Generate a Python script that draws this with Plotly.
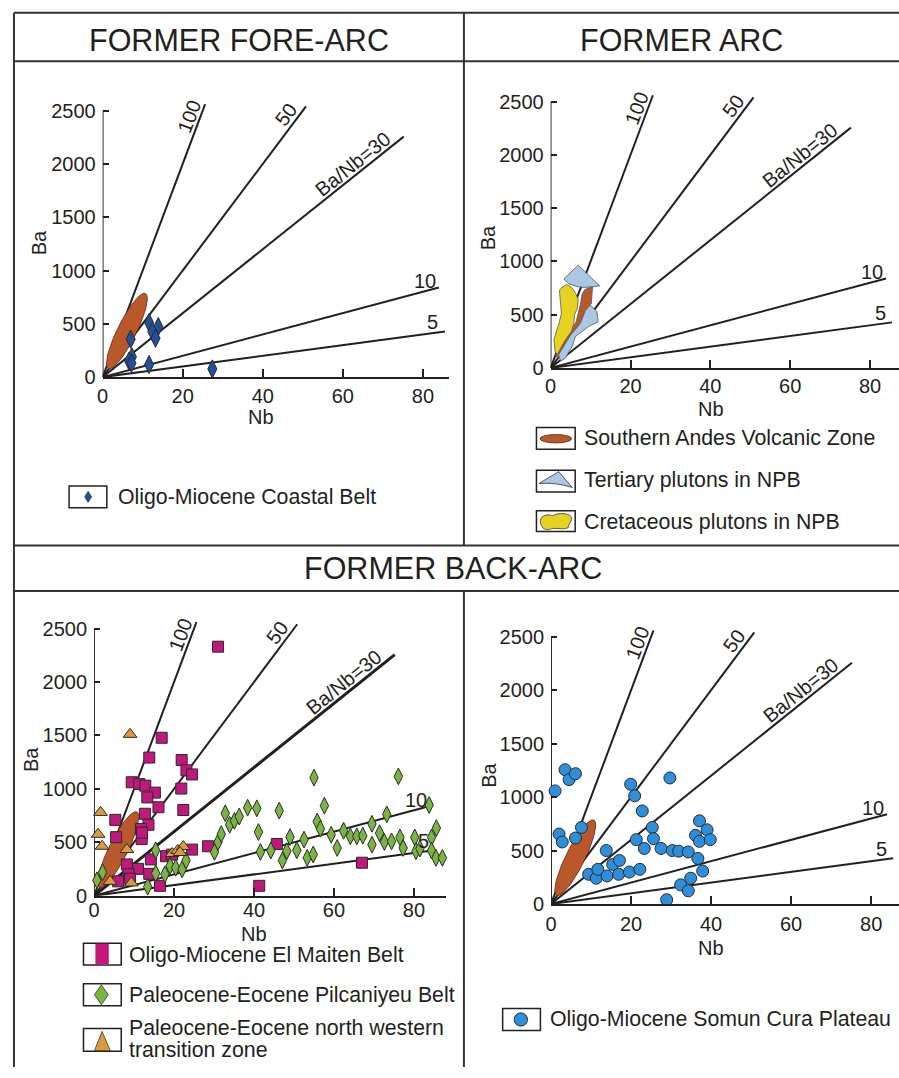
import numpy as np
import plotly.graph_objects as go

W, H = 899, 1078
FONT = "Liberation Sans, Arial, sans-serif"
INK = "#231f20"

# ---------------- data ----------------
ratios = [100, 50, 30, 10, 5]
ratio_labels = ["100", "50", "Ba/Nb=30", "10", "5"]
ratio_line_nb_end = [25.6, 50.8, 75.2, 84.0, 85.5]
ratio_label_nb = [21.6, 45.7, 62.5, 80.5, 82.5]
ratio_label_ba = [2440, 2460, 2000, 900, 515]

x_ticks = [0, 20, 40, 60, 80]
y_ticks = [0, 500, 1000, 1500, 2000, 2500]

# Southern Andes Volcanic Zone field (ellipse end points, Nb / Ba)
svz_end_nb = [1.4, 10.7]
svz_end_ba = [80, 785]

# Oligo-Miocene Coastal Belt
coastal_nb = [7.0, 11.6, 13.9, 12.4, 13.2, 7.3, 6.6, 7.2, 11.6, 27.4]
coastal_ba = [356, 511, 474, 427, 365, 190, 150, 130, 118, 77]

# Former arc fields
svz_arc_nb = [8.55, 10.5, 10.2, 8.7, 7.2, 5.4, 3.3, 2.1, 1.25, 1.9, 4.6, 6.4, 7.5, 7.9]
svz_arc_ba = [734, 766, 604, 536, 412, 320, 202, 93, 109, 202, 325, 434, 604, 697]
cret_nb = [2.9, 4.15, 5.4, 6.3, 6.9, 6.7, 6.0, 5.8, 5.2, 3.7, 2.5, 1.7, 1.1, 0.85, 1.25, 2.1, 2.7, 2.5, 2.2]
cret_ba = [759, 784, 750, 700, 640, 560, 500, 418, 341, 264, 186, 124, 155, 264, 325, 418, 511, 636, 728]
tert_hat_nb = [3.3, 6.9, 12.3, 10.5, 8.5, 6.5, 4.5]
tert_hat_ba = [835, 965, 770, 760, 755, 765, 790]
tert_low_nb = [9.95, 11.6, 11.9, 9.5, 6.2, 5.4, 3.7, 2.5, 2.0, 3.0, 5.0, 7.5, 8.7]
tert_low_ba = [589, 527, 434, 388, 295, 202, 93, 62, 124, 186, 310, 418, 542]

# Oligo-Miocene El Maiten Belt
maiten_nb = [31.0, 16.9, 13.8, 21.9, 23.1, 24.5, 9.4, 11.3, 12.8, 15.2, 13.3, 21.8, 16.1, 22.3,
             12.7, 5.3, 13.6, 11.7, 11.9, 5.5, 28.5, 24.5, 45.7, 18.0, 14.2, 8.2, 11.0, 13.8,
             8.6, 6.0, 67.0, 41.3, 16.5, 19.5, 9.0, 12.0]
maiten_ba = [2330, 1478, 1293, 1270, 1173, 1135, 1062, 1045, 1030, 965, 920, 1003, 828, 802,
             767, 710, 664, 625, 530, 548, 463, 432, 484, 370, 340, 293, 252, 205,
             201, 135, 309, 93, 93, 385, 160, 590]

# Paleocene-Eocene Pilcaniyeu Belt
pilca_nb = [0.7, 2.1, 13.4, 15.4, 15.4, 17.7, 19.0, 20.4, 22.0, 23.0, 30.1, 31.0, 31.8, 32.8,
            33.9, 35.1, 36.3, 38.4, 40.7, 41.1, 41.6, 44.2, 46.3, 47.1, 48.2, 49.0, 50.7, 52.5,
            53.3, 54.8, 55.0, 55.8, 56.6, 57.6, 59.3, 60.8, 62.4, 64.1, 65.7, 67.2, 69.5, 69.5,
            71.4, 72.6, 73.2, 74.4, 76.1, 76.5, 77.3, 80.2, 80.5, 81.5, 83.8, 84.4, 84.4, 85.5,
            85.6, 87.1, 89.5]
pilca_ba = [145, 220, 85, 210, 425, 201, 278, 262, 247, 330, 410, 503, 577, 772,
            664, 701, 741, 824, 818, 596, 410, 423, 796, 330, 417, 549, 426, 525,
            355, 386, 1105, 694, 627, 843, 571, 447, 608, 556, 556, 562, 673, 478,
            586, 503, 762, 509, 1117, 546, 447, 546, 417, 441, 849, 546, 423, 355,
            633, 355, 278]

# Paleocene-Eocene north western transition zone
nwtz_nb = [9.0, 1.6, 1.0, 2.0, 8.2, 4.0, 9.3, 19.5, 20.9, 22.3, 21.5]
nwtz_ba = [1510, 780, 575, 463, 432, 135, 120, 395, 425, 460, 405]

# Oligo-Miocene Somun Cura Plateau
somun_nb = [1.0, 3.5, 4.5, 6.1, 2.0, 2.8, 6.1, 7.6, 19.9, 20.9, 22.8, 29.7, 25.3, 25.6,
            21.3, 23.3, 27.5, 30.3, 31.9, 34.3, 36.7, 37.1, 36.1, 37.1, 39.0, 39.8, 37.9,
            13.8, 9.4, 11.3, 11.7, 14.0, 15.4, 17.1, 16.9, 19.6, 22.2, 34.9, 32.4, 34.3, 28.9]
somun_ba = [1058, 1256, 1163, 1219, 654, 580, 617, 716, 1120, 1012, 870, 1179, 716, 611,
            602, 519, 519, 500, 494, 487, 426, 778, 642, 586, 694, 602, 308,
            500, 278, 241, 324, 262, 370, 407, 278, 299, 324, 241, 179, 123, 40]

# ---------------- colours ----------------
C_SVZ = "#b9582b"
C_TERT = "#a9c8e5"
C_CRET = "#e6d21f"
C_COAST = "#21509d"
C_MAITEN = "#c2187d"
C_PILCA = "#7ab441"
C_NWTZ = "#dc9b3b"
C_SOMUN = "#2d8fdb"

# ---------------- panel geometry (pixels) ----------------
panels = [
    dict(x0=97.3, y0=381.0, sx=4.03, sy=0.1077, xmax=86.5, ba=(33, 245), nb=(257, 421), xso=0),
    dict(x0=548.3, y0=371.7, sx=4.02, sy=0.1076, xmax=87.7, ba=(485, 240), nb=(710, 413), xso=-1),
    dict(x0=88.7, y0=905.0, sx=4.025, sy=0.108, xmax=88.0, ba=(25, 767), nb=(250, 944), xso=-5),
    dict(x0=548.7, y0=913.3, sx=4.028, sy=0.108, xmax=87.6, ba=(486, 783), nb=(710, 958), xso=1),
]
YMAX = 2600
LEG = 21.3

fig = go.Figure()
layout = dict(width=W, height=H, margin=dict(l=0, r=0, t=0, b=0),
              paper_bgcolor="white", plot_bgcolor="rgba(0,0,0,0)",
              showlegend=False, font=dict(family=FONT, color=INK, size=20))
shapes = []
annotations = []

for i, p in enumerate(panels):
    n = i + 1
    xa = "xaxis" if n == 1 else f"xaxis{n}"
    ya = "yaxis" if n == 1 else f"yaxis{n}"
    xr = "x" if n == 1 else f"x{n}"
    yr = "y" if n == 1 else f"y{n}"
    xmax = min(p["xmax"], (W - p["x0"]) / p["sx"] - 0.01)
    xd = [p["x0"] / W, min(1.0, (p["x0"] + xmax * p["sx"]) / W)]
    yd = [1 - p["y0"] / H, 1 - (p["y0"] - YMAX * p["sy"]) / H]
    layout[xa] = dict(domain=xd, range=[0, xmax], anchor=yr, showgrid=False, zeroline=False,
                      showline=True, linecolor=INK, linewidth=1.8, ticks="inside", ticklen=8,
                      tickwidth=1.5, tickcolor=INK, tickvals=x_ticks,
                      tickfont=dict(size=20, family=FONT, color=INK),
                      ticklabelstandoff=p["xso"])
    layout[ya] = dict(domain=yd, range=[0, YMAX], anchor=xr, showgrid=False, zeroline=False,
                      showline=False, ticks="inside", ticklen=6, tickwidth=1.5, tickcolor=INK,
                      tickvals=y_ticks, tickfont=dict(size=20, family=FONT, color=INK),
                      ticklabelstandoff=6)
    # y axis line up to 2500
    shapes.append(dict(type="line", xref=xr, yref=yr, x0=0, x1=0, y0=0, y1=y_ticks[-1],
                       line=dict(color=INK, width=1.8), layer="below"))
    # ratio lines
    for r, e in zip(ratios, ratio_line_nb_end):
        w = 3 if (n == 3 and r == 30) else 2
        fig.add_trace(go.Scatter(x=[0, e], y=[0, r * e], mode="lines", xaxis=xr, yaxis=yr,
                                 line=dict(color=INK, width=w), hoverinfo="skip"))
    for r, lab, lx, ly in zip(ratios, ratio_labels, ratio_label_nb, ratio_label_ba):
        ang = 0 if r <= 10 else -np.degrees(np.arctan(r * p["sy"] / p["sx"]))
        annotations.append(dict(x=lx, y=ly, xref=xr, yref=yr, text=lab, showarrow=False,
                                textangle=ang, xanchor="center", yanchor="middle",
                                font=dict(size=20, family=FONT, color=INK)))
    # axis titles
    annotations.append(dict(x=p["ba"][0], y=p["ba"][1], xref="x5", yref="y5", text="Ba",
                            showarrow=False, textangle=-90, font=dict(size=20, family=FONT, color=INK)))
    annotations.append(dict(x=p["nb"][0], y=p["nb"][1], xref="x5", yref="y5", text="Nb",
                            showarrow=False, font=dict(size=20, family=FONT, color=INK)))
    # SVZ ellipse (panels 1, 3, 4)
    if n in (1, 3, 4):
        u = np.array(svz_end_nb) * p["sx"]
        v = np.array(svz_end_ba) * p["sy"]
        cu, cv = u.mean(), v.mean()
        a = np.hypot(u[1] - u[0], v[1] - v[0]) / 2
        b = 9.5
        th = np.arctan2(v[1] - v[0], u[1] - u[0])
        t = np.linspace(0, 2 * np.pi, 80)
        eu = cu + a * np.cos(t) * np.cos(th) - b * np.sin(t) * np.sin(th)
        ev = cv + a * np.cos(t) * np.sin(th) + b * np.sin(t) * np.cos(th)
        fig.add_trace(go.Scatter(x=eu / p["sx"], y=ev / p["sy"], mode="lines", fill="toself",
                                 fillcolor=C_SVZ, line=dict(color="#5a2a12", width=0.8),
                                 xaxis=xr, yaxis=yr, hoverinfo="skip"))

    def pts(xs, ys, sym, col, size):
        fig.add_trace(go.Scatter(x=xs, y=ys, mode="markers", xaxis=xr, yaxis=yr, cliponaxis=False,
                                 marker=dict(symbol=sym, color=col, size=size,
                                             line=dict(color="#2a2a2a", width=1)),
                                 hoverinfo="skip"))

    def field(xs, ys, col):
        fig.add_trace(go.Scatter(x=xs + [xs[0]], y=ys + [ys[0]], mode="lines", fill="toself",
                                 fillcolor=col, line=dict(color="#555555", width=0.8),
                                 xaxis=xr, yaxis=yr, hoverinfo="skip"))

    if n == 1:
        pts(coastal_nb, coastal_ba, "diamond-tall", C_COAST, 13)
    elif n == 2:
        field(svz_arc_nb, svz_arc_ba, C_SVZ)
        field(cret_nb, cret_ba, C_CRET)
        field(tert_low_nb, tert_low_ba, C_TERT)
        field(tert_hat_nb, tert_hat_ba, C_TERT)
    elif n == 3:
        pts(maiten_nb, maiten_ba, "square", C_MAITEN, 11)
        pts(pilca_nb, pilca_ba, "diamond-tall", C_PILCA, 12)
        pts(nwtz_nb, nwtz_ba, "triangle-up", C_NWTZ, 12)
    else:
        pts(somun_nb, somun_ba, "circle", C_SOMUN, 12)

# overlay pixel axes for frame & legends
layout["xaxis5"] = dict(domain=[0, 1], range=[0, W], visible=False, anchor="y5", fixedrange=True)
layout["yaxis5"] = dict(domain=[0, 1], range=[H, 0], visible=False, anchor="x5", fixedrange=True)
fig.add_trace(go.Scatter(x=[None], y=[None], xaxis="x5", yaxis="y5", hoverinfo="skip"))

def line(x0, y0, x1, y1, w=2):
    shapes.append(dict(type="line", xref="x5", yref="y5", x0=x0, y0=y0, x1=x1, y1=y1,
                       line=dict(color="#333333", width=w), layer="above"))

FL, FT, DIV = 8, 13, 461
line(FL, FT, W, FT)
line(FL, 62, W, 62)
line(FL, 551, W, 551)
line(FL, 597, W, 597)
line(FL, FT, FL, H)
line(DIV, FT, DIV, 551)
line(DIV, 597, DIV, H)

for txt, x, y in [("FORMER FORE-ARC", 235, 40), ("FORMER ARC", 680, 40), ("FORMER BACK-ARC", 450, 574)]:
    annotations.append(dict(x=x, y=y, xref="x5", yref="y5", text=txt, showarrow=False,
                            font=dict(size=30.5, family=FONT, color=INK)))

def box(x0, y0, x1, y1):
    shapes.append(dict(type="rect", xref="x5", yref="y5", x0=x0, y0=y0, x1=x1, y1=y1,
                       line=dict(color=INK, width=1.5), fillcolor="white", layer="above"))

def path(d, col, lw=0.8):
    shapes.append(dict(type="path", xref="x5", yref="y5", path=d, fillcolor=col,
                       line=dict(color="#333333", width=lw), layer="above"))

def legtext(x, y, t):
    annotations.append(dict(x=x, y=y, xref="x5", yref="y5", text=t, showarrow=False,
                            xanchor="left", yanchor="middle", font=dict(size=LEG, family=FONT, color=INK)))

# panel 1 legend
box(63.5, 491, 101.5, 513)
path("M 82.7,496.5 L 86.2,502 L 82.7,507.5 L 79.2,502 Z", C_COAST)
legtext(110.5, 502, "Oligo-Miocene Coastal Belt")

# panel 2 legend
box(534, 432, 573, 454)
shapes.append(dict(type="circle", xref="x5", yref="y5", x0=537.5, x1=569.5, y0=439, y1=447.5,
                   fillcolor=C_SVZ, line=dict(color="#5a2a12", width=0.8), layer="above"))
legtext(580, 443, "Southern Andes Volcanic Zone")
box(534, 475, 573, 497)
path("M 536.5,488.5 L 556.5,476.5 L 570,492.5 Q 553,487 536.5,488.5 Z", C_TERT)
legtext(580, 485, "Tertiary plutons in NPB")
box(534, 516, 573, 537)
path("M 538,528 C 537,521 545,519 550,521 C 556,518 566,518 569,522 C 571,526 566,529 566,533 "
     "C 560,536 552,532 547,535 C 541,536 539,532 538,528 Z", C_CRET)
legtext(580, 527, "Cretaceous plutons in NPB")

# panel 3 legend
box(78, 953, 116, 975)
shapes.append(dict(type="rect", xref="x5", yref="y5", x0=90, x1=103.5, y0=953.5, y1=974.5,
                   fillcolor=C_MAITEN, line=dict(width=0), layer="above"))
legtext(121.5, 965, "Oligo-Miocene El Maiten Belt")
box(78, 994, 116, 1016)
path("M 96,995 L 103,1005 L 96,1015 L 89,1005 Z", C_PILCA)
legtext(121.5, 1005, "Paleocene-Eocene Pilcaniyeu Belt")
box(78, 1039, 116, 1062)
path("M 89,1061.5 L 96.7,1042 L 105,1061.5 Z", C_NWTZ)
legtext(121.5, 1039, "Paleocene-Eocene north western")
legtext(121.5, 1061, "transition zone")

# panel 4 legend
box(500, 1019, 538, 1041)
shapes.append(dict(type="circle", xref="x5", yref="y5", x0=511.6, x1=525, y0=1023.3, y1=1036.7,
                   fillcolor=C_SOMUN, line=dict(color="#2a2a2a", width=1), layer="above"))
legtext(545.5, 1030, "Oligo-Miocene Somun Cura Plateau")

layout["shapes"] = shapes
layout["annotations"] = annotations
fig.update_layout(**layout)
fig.write_html("out.html")
